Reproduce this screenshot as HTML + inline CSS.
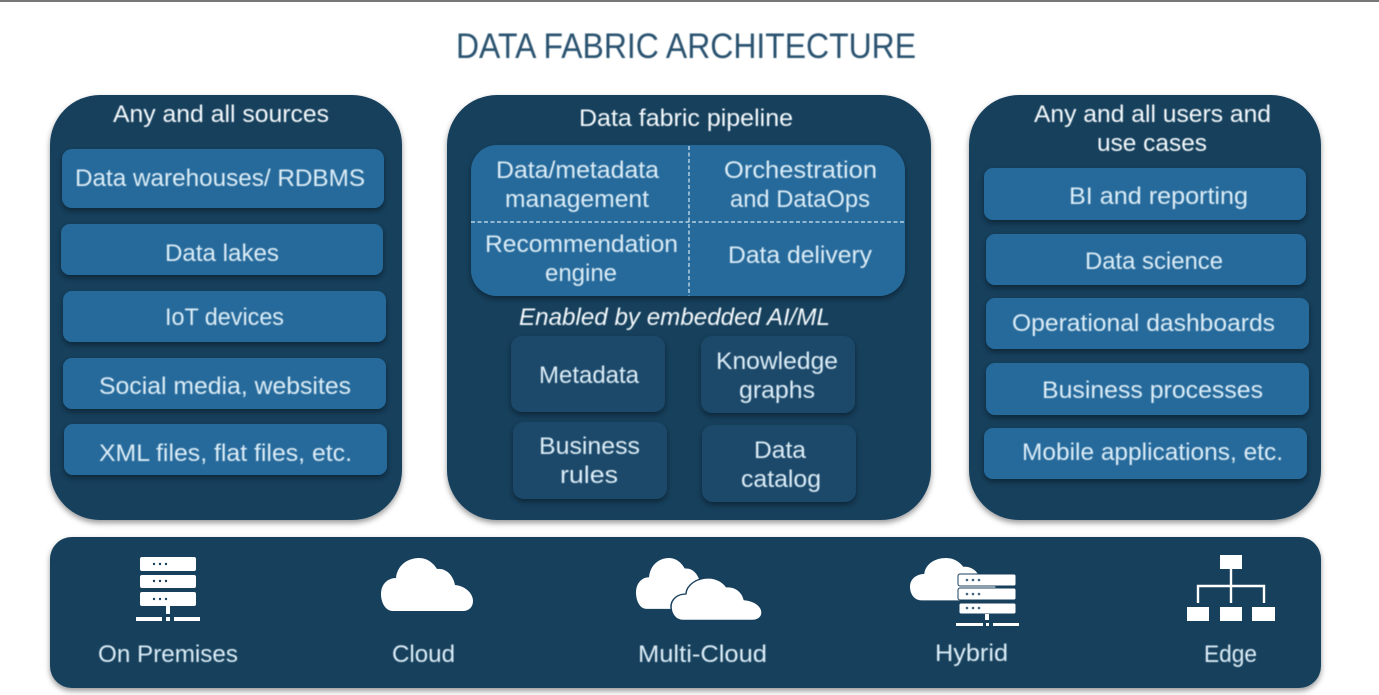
<!DOCTYPE html>
<html><head><meta charset="utf-8"><style>
html,body{margin:0;padding:0;background:#fff;width:1379px;height:695px;overflow:hidden}
svg{display:block}
text{font-family:"Liberation Sans",sans-serif;font-size:24px;fill:#dcedf7}
.t{fill:#f4f9fc}
</style></head><body>
<svg width="1379" height="695" viewBox="0 0 1379 695" xmlns="http://www.w3.org/2000/svg">
<defs>
<filter id="s" x="-10%" y="-10%" width="120%" height="120%"><feDropShadow dx="0" dy="3" stdDeviation="3" flood-color="#000" flood-opacity=".4"/></filter>
<filter id="b" x="-5%" y="-20%" width="110%" height="140%"><feGaussianBlur stdDeviation="0.4"/></filter>
<path id="cl" d="M12 53C4 53 0 44 0 36C0 26 7 20 15 20C16 8 26 0 38 0C47 0 53 6 56 11C65 10 72 17 74 27C84 28 92 35 92 43C92 49 88 53 82 53Z"/>
</defs>
<rect width="1379" height="2" fill="#777"/>
<g filter="url(#s)" fill="#173f5c">
<rect x="50" y="95" width="352" height="425" rx="50"/>
<rect x="447" y="95" width="484" height="425" rx="50"/>
<rect x="969" y="95" width="352" height="425" rx="50"/>
<rect x="50" y="537" width="1271" height="151" rx="22"/>
</g>
<g fill="#266a9b" filter="url(#s)">
<rect x="62" y="149" width="322" height="59" rx="10"/>
<rect x="61" y="224" width="322" height="51" rx="9"/>
<rect x="63" y="291" width="323" height="51" rx="9"/>
<rect x="63" y="358" width="323" height="51" rx="9"/>
<rect x="64" y="424" width="323" height="51" rx="9"/>
<rect x="984" y="168" width="322" height="52" rx="9"/>
<rect x="986" y="234" width="320" height="51" rx="9"/>
<rect x="986" y="298" width="323" height="51" rx="9"/>
<rect x="986" y="363" width="323" height="52" rx="9"/>
<rect x="984" y="428" width="323" height="51" rx="9"/>
<rect x="471" y="145" width="434" height="151" rx="26"/>
</g>
<g fill="#1b486a" filter="url(#s)">
<rect x="511" y="336" width="154" height="76" rx="11"/>
<rect x="701" y="336" width="154" height="77" rx="11"/>
<rect x="513" y="422" width="154" height="77" rx="11"/>
<rect x="702" y="425" width="154" height="77" rx="11"/>
</g>
<g stroke="#d5e8f3" stroke-width="1.2" stroke-dasharray="4 2.5" fill="none">
<path d="M689 146V296"/><path d="M471 222H905"/>
</g>
<g filter="url(#b)">
<text x="456" y="58" style="font-size:35px;fill:#2a5270" textLength="460" lengthAdjust="spacingAndGlyphs">DATA FABRIC ARCHITECTURE</text>
<text class="t" x="113" y="122" textLength="216" lengthAdjust="spacingAndGlyphs">Any and all sources</text>
<text x="75" y="186" textLength="290" lengthAdjust="spacingAndGlyphs">Data warehouses/ RDBMS</text>
<text x="165" y="261" textLength="114" lengthAdjust="spacingAndGlyphs">Data lakes</text>
<text x="165" y="325" textLength="119" lengthAdjust="spacingAndGlyphs">IoT devices</text>
<text x="99" y="394" textLength="252" lengthAdjust="spacingAndGlyphs">Social media, websites</text>
<text x="99" y="461" textLength="253" lengthAdjust="spacingAndGlyphs">XML files, flat files, etc.</text>
<text class="t" x="579" y="126" textLength="214" lengthAdjust="spacingAndGlyphs">Data fabric pipeline</text>
<text x="496" y="178" textLength="163" lengthAdjust="spacingAndGlyphs">Data/metadata</text>
<text x="505" y="207" textLength="144" lengthAdjust="spacingAndGlyphs">management</text>
<text x="724" y="178" textLength="153" lengthAdjust="spacingAndGlyphs">Orchestration</text>
<text x="730" y="207" textLength="140" lengthAdjust="spacingAndGlyphs">and DataOps</text>
<text x="485" y="252" textLength="193" lengthAdjust="spacingAndGlyphs">Recommendation</text>
<text x="545" y="281" textLength="72" lengthAdjust="spacingAndGlyphs">engine</text>
<text x="728" y="263" textLength="144" lengthAdjust="spacingAndGlyphs">Data delivery</text>
<text class="t" x="519" y="325" font-style="italic" textLength="311" lengthAdjust="spacingAndGlyphs">Enabled by embedded AI/ML</text>
<text x="539" y="383" textLength="100" lengthAdjust="spacingAndGlyphs">Metadata</text>
<text x="716" y="369" textLength="122" lengthAdjust="spacingAndGlyphs">Knowledge</text>
<text x="739" y="398" textLength="76" lengthAdjust="spacingAndGlyphs">graphs</text>
<text x="539" y="454" textLength="101" lengthAdjust="spacingAndGlyphs">Business</text>
<text x="560" y="483" textLength="58" lengthAdjust="spacingAndGlyphs">rules</text>
<text x="754" y="458" textLength="52" lengthAdjust="spacingAndGlyphs">Data</text>
<text x="741" y="487" textLength="80" lengthAdjust="spacingAndGlyphs">catalog</text>
<text class="t" x="1034" y="122" textLength="237" lengthAdjust="spacingAndGlyphs">Any and all users and</text>
<text class="t" x="1097" y="151" textLength="110" lengthAdjust="spacingAndGlyphs">use cases</text>
<text x="1069" y="204" textLength="179" lengthAdjust="spacingAndGlyphs">BI and reporting</text>
<text x="1085" y="269" textLength="138" lengthAdjust="spacingAndGlyphs">Data science</text>
<text x="1012" y="331" textLength="263" lengthAdjust="spacingAndGlyphs">Operational dashboards</text>
<text x="1042" y="398" textLength="221" lengthAdjust="spacingAndGlyphs">Business processes</text>
<text x="1022" y="460" textLength="261" lengthAdjust="spacingAndGlyphs">Mobile applications, etc.</text>
<text x="98" y="662" textLength="140" lengthAdjust="spacingAndGlyphs">On Premises</text>
<text x="392" y="662" textLength="63" lengthAdjust="spacingAndGlyphs">Cloud</text>
<text x="638" y="662" textLength="129" lengthAdjust="spacingAndGlyphs">Multi-Cloud</text>
<text x="935" y="661" textLength="73" lengthAdjust="spacingAndGlyphs">Hybrid</text>
<text x="1204" y="662" textLength="53" lengthAdjust="spacingAndGlyphs">Edge</text>
</g>
<g fill="#fff">
<rect x="140" y="557" width="56" height="14" rx="2"/>
<rect x="140" y="575" width="56" height="13" rx="2"/>
<rect x="140" y="592" width="56" height="14" rx="2"/>
<rect x="166" y="606" width="4" height="8"/>
<rect x="136" y="617" width="26" height="4"/><rect x="166" y="617" width="4" height="4"/><rect x="174" y="617" width="26" height="4"/>
</g>
<g fill="#173f5c">
<circle cx="154" cy="564" r="1.2"/><circle cx="160" cy="564" r="1.2"/><circle cx="166" cy="564" r="1.2"/>
<circle cx="154" cy="581" r="1.2"/><circle cx="160" cy="581" r="1.2"/><circle cx="166" cy="581" r="1.2"/>
<circle cx="154" cy="599" r="1.2"/><circle cx="160" cy="599" r="1.2"/><circle cx="166" cy="599" r="1.2"/>
</g>
<use href="#cl" transform="translate(381,558)" fill="#fff"/>
<use href="#cl" transform="translate(636,558) scale(.87,.96)" fill="#fff"/>
<use href="#cl" transform="translate(671,578) scale(.99,.8)" fill="#fff" stroke="#173f5c" stroke-width="1.5"/>
<use href="#cl" transform="translate(910,558) scale(.95,.8)" fill="#fff"/>
<g fill="#fff" stroke="#173f5c" stroke-width="1">
<rect x="958" y="574" width="58" height="12" rx="2"/>
<rect x="958" y="588" width="58" height="12" rx="2"/>
<rect x="959" y="603" width="57" height="11" rx="2"/>
</g>
<g fill="#fff">
<rect x="985" y="614" width="4" height="6"/>
<rect x="956" y="623" width="27" height="3"/><rect x="986" y="623" width="3" height="3"/><rect x="993" y="623" width="26" height="3"/>
</g>
<g fill="#42647c">
<circle cx="967" cy="580" r="1.3"/><circle cx="973" cy="580" r="1.3"/><circle cx="979" cy="580" r="1.3"/>
<circle cx="967" cy="594" r="1.3"/><circle cx="973" cy="594" r="1.3"/><circle cx="979" cy="594" r="1.3"/>
<circle cx="967" cy="608" r="1.3"/><circle cx="973" cy="608" r="1.3"/><circle cx="979" cy="608" r="1.3"/>
</g>
<g fill="#fff">
<rect x="1220" y="555" width="22" height="14"/>
<rect x="1187" y="607" width="22" height="14"/>
<rect x="1220" y="607" width="22" height="14"/>
<rect x="1252" y="607" width="23" height="14"/>
</g>
<path d="M1231 569V603M1198 603V586H1264V603" fill="none" stroke="#fff" stroke-width="2.4"/>
</svg>
</body></html>
